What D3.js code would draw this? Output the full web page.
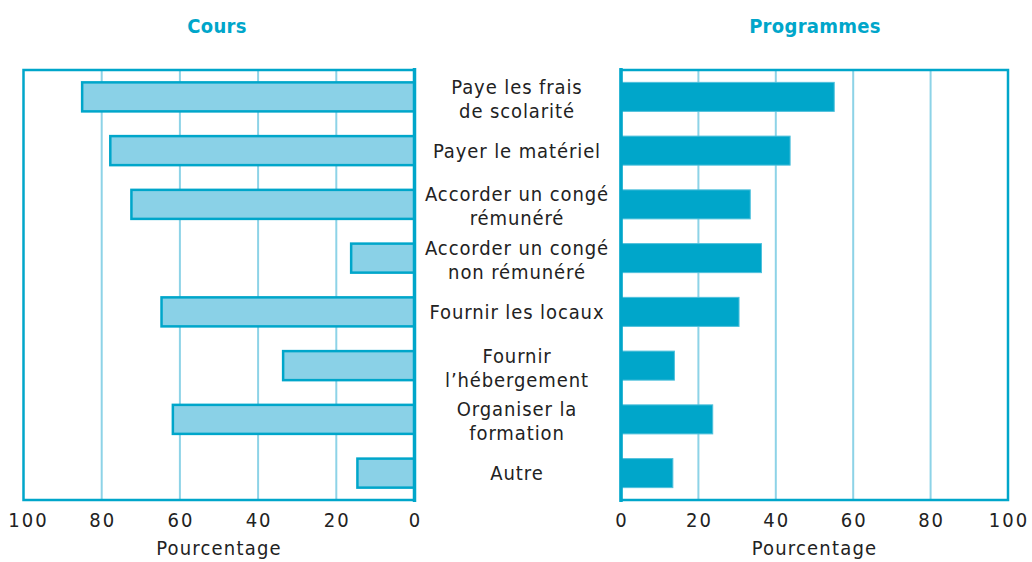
<!DOCTYPE html>
<html>
<head>
<meta charset="utf-8">
<script src="https://cdn.jsdelivr.net/npm/d3@7"></script>
<style>
  body { margin: 0; background: #fff; }
  svg { display: block; font-family: "Liberation Sans Narrow", "DejaVu Sans Condensed", sans-serif; }
  .frame { fill: none; stroke: #00a6ca; stroke-width: 2.5; }
  .grid { stroke: #8dd3e7; stroke-width: 2; }
  .tick-label { fill: #222; font-size: 20px; letter-spacing: 2px; }
  .axis-title { fill: #222; font-size: 20px; letter-spacing: 1.2px; }
  .cat-label { fill: #222; font-size: 20px; letter-spacing: 0.9px; }
  .panel-title { fill: #00a6ca; font-size: 20px; font-weight: bold; letter-spacing: 0.3px; }
</style>
</head>
<body>
<svg id="chart"></svg>
<script>
const width = 1032;
const height = 562;

// Data
const categories = [
  ["Paye les frais", "de scolarité"],
  ["Payer le matériel"],
  ["Accorder un congé", "rémunéré"],
  ["Accorder un congé", "non rémunéré"],
  ["Fournir les locaux"],
  ["Fournir", "l’hébergement"],
  ["Organiser la", "formation"],
  ["Autre"]
];
const coursValues = [85, 77.8, 72.4, 16.2, 64.7, 33.6, 61.8, 14.6];
const programmesValues = [55.1, 43.7, 33.4, 36.3, 30.5, 13.8, 23.7, 13.4];
const tickValues = [0, 20, 40, 60, 80, 100];

const svg = d3.select("#chart").attr("width", width).attr("height", height);

const plotTop = 70;
const plotBottom = 500;

// Shared band scale for the rows
const y = d3
  .scaleBand()
  .domain(d3.range(categories.length))
  .range([plotTop, plotBottom])
  .paddingInner(0.46)
  .paddingOuter(0.23);

// Left (reversed) and right scales
const xLeft = d3.scaleLinear().domain([100, 0]).range([23.5, 414.5]);
const xRight = d3.scaleLinear().domain([0, 100]).range([621, 1008]);

function drawPanel(x, values, opts) {
  const g = svg.append("g");
  const [x0, x1] = x.range();
  const zeroX = x(0);

  // Grid lines
  g.selectAll(".grid")
    .data(tickValues.filter((d) => d !== 0 && d !== 100))
    .enter()
    .append("line")
    .attr("class", "grid")
    .attr("x1", (d) => x(d))
    .attr("x2", (d) => x(d))
    .attr("y1", plotTop)
    .attr("y2", plotBottom);

  // Frame
  g.append("rect")
    .attr("class", "frame")
    .attr("x", Math.min(x0, x1))
    .attr("y", plotTop)
    .attr("width", Math.abs(x1 - x0))
    .attr("height", plotBottom - plotTop);

  // Bars
  g.selectAll(".bar")
    .data(values)
    .enter()
    .append("rect")
    .attr("class", "bar")
    .attr("x", (d) => Math.min(x(d), zeroX))
    .attr("y", (d, i) => y(i))
    .attr("width", (d) => Math.abs(x(d) - zeroX))
    .attr("height", y.bandwidth())
    .attr("fill", opts.fill)
    .attr("stroke", opts.stroke)
    .attr("stroke-width", opts.strokeWidth);

  // Zero line (thicker)
  g.append("line")
    .attr("x1", zeroX)
    .attr("x2", zeroX)
    .attr("y1", plotTop - 2)
    .attr("y2", plotBottom + 2)
    .attr("stroke", "#00a6ca")
    .attr("stroke-width", 3.5);

  // Tick labels
  g.selectAll(".tick-label")
    .data(tickValues)
    .enter()
    .append("text")
    .attr("class", "tick-label")
    .attr("x", (d) => x(d) + (d === 100 && opts.flip ? 5 : 1))
    .attr("y", 527)
    .attr("text-anchor", "middle")
    .text((d) => d);

  // Axis title
  g.append("text")
    .attr("class", "axis-title")
    .attr("x", (x0 + x1) / 2)
    .attr("y", 555)
    .attr("text-anchor", "middle")
    .text("Pourcentage");

  // Panel title
  g.append("text")
    .attr("class", "panel-title")
    .attr("x", opts.titleX)
    .attr("y", 33)
    .attr("text-anchor", "middle")
    .text(opts.title);
}

drawPanel(xLeft, coursValues, {
  fill: "#8ad1e7",
  stroke: "#00a6ca",
  strokeWidth: 2.5,
  title: "Cours",
  titleX: 217,
  flip: true
});

drawPanel(xRight, programmesValues, {
  fill: "#00a6ca",
  stroke: "#4fc0dc",
  strokeWidth: 1,
  title: "Programmes",
  titleX: 815,
  flip: false
});

// Category labels in the middle
const lineHeight = 24;
const labels = svg
  .selectAll(".cat-label")
  .data(categories)
  .enter()
  .append("text")
  .attr("class", "cat-label")
  .attr("text-anchor", "middle")
  .attr("x", 517)
  .attr("y", (d, i) => {
    const mid = y(i) + y.bandwidth() / 2;
    return mid - ((d.length - 1) * lineHeight) / 2 + 7 + (d.length > 1 ? 2 : 0);
  });

labels
  .selectAll("tspan")
  .data((d) => d)
  .enter()
  .append("tspan")
  .attr("x", 517)
  .attr("dy", (d, i) => (i === 0 ? 0 : lineHeight))
  .text((d) => d);
</script>
</body>
</html>
